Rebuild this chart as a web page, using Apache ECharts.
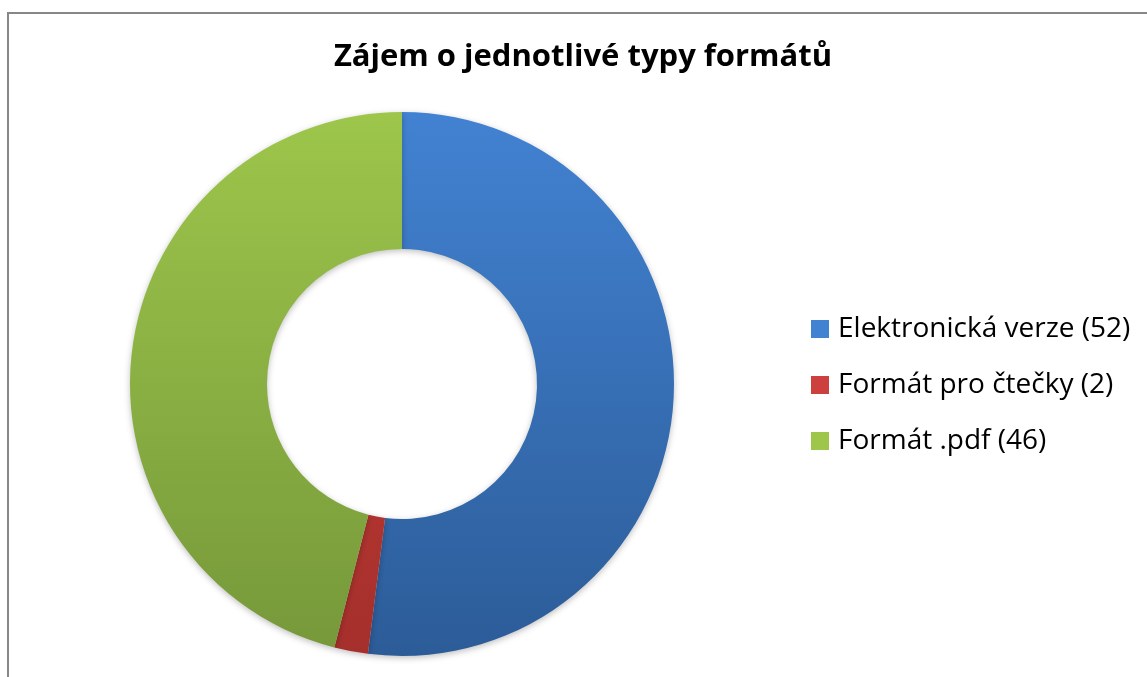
<!DOCTYPE html>
<html>
<head>
    <meta charset="utf-8">
    <title>Zájem o jednotlivé typy formátů</title>
    <script src="https://cdn.jsdelivr.net/npm/echarts@6/dist/echarts.min.js"></script>
    <style>
        html, body { margin: 0; padding: 0; background: #fff; }
        #main { width: 1147px; height: 677px; }
    </style>
</head>
<body>
    <div id="main"></div>
    <script>
        // data
        var categories = ['Elektronická verze', 'Formát pro čtečky', 'Formát .pdf'];
        var values = [52, 2, 46];
        // gradient colours, top -> bottom
        var topColors = ['#4282d2', '#cc413d', '#9dc64b'];
        var bottomColors = ['#2c5c98', '#a52f2b', '#76983a'];

        var byId = function(id) {
            return document.getElementById(id);
        };

        // vertical gradient over the whole ring (pixel coordinates)
        var grad = function(i) {
            return new echarts.graphic.LinearGradient(0, 112, 0, 656, [
                { offset: 0, color: topColors[i] },
                { offset: 1, color: bottomColors[i] }
            ], true);
        };

        var pieData = [];
        for (var i = 0; i < categories.length; i++) {
            pieData.push({
                name: categories[i],
                value: values[i],
                itemStyle: { color: grad(i) }
            });
        }

        var option = {
            animation: false,
            title: {
                text: 'Zájem o jednotlivé typy formátů',
                left: 583,
                textAlign: 'center',
                top: 37,
                padding: 0,
                textStyle: {
                    fontFamily: 'Open Sans',
                    fontWeight: 'bold',
                    fontSize: 31,
                    lineHeight: 40,
                    color: '#000'
                }
            },
            legend: {
                orient: 'vertical',
                left: 811,
                top: 315,
                padding: 0,
                itemWidth: 18,
                itemHeight: 18,
                itemGap: 28,
                icon: 'rect',
                textStyle: {
                    fontFamily: 'Open Sans',
                    fontSize: 28,
                    lineHeight: 25,
                    color: '#000',
                    padding: [0, 0, 0, 4]
                },
                formatter: function(name) {
                    return name + ' (' + values[categories.indexOf(name)] + ')';
                }
            },
            graphic: [{
                type: 'rect',
                shape: { x: 8, y: 13, width: 1300, height: 800 },
                style: { fill: 'none', stroke: '#878787', lineWidth: 2 },
                silent: true
            }],
            series: [{
                type: 'pie',
                center: [402, 384],
                radius: [135, 272],
                startAngle: 90,
                clockwise: true,
                label: { show: false },
                labelLine: { show: false },
                emphasis: { disabled: true },
                itemStyle: {
                    borderWidth: 0,
                    shadowBlur: 6,
                    shadowOffsetY: 2,
                    shadowColor: 'rgba(0,0,0,0.25)'
                },
                data: pieData
            }]
        };

        var chart = echarts.init(byId('main'));
        chart.setOption(option);
    </script>
</body>
</html>
